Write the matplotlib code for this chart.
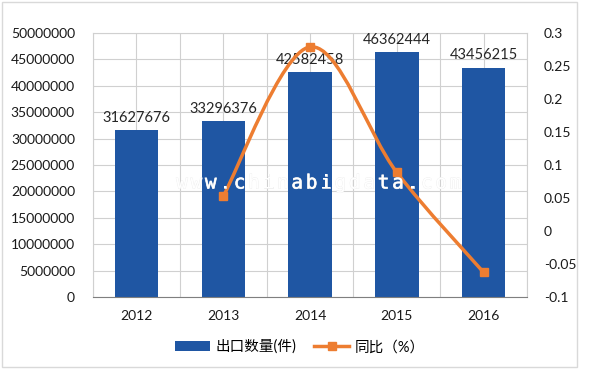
import matplotlib.pyplot as plt
from matplotlib.path import Path
from matplotlib.patches import PathPatch, Rectangle, Patch
from matplotlib.lines import Line2D
import matplotlib.patheffects as pe

annees = ["2012", "2013", "2014", "2015", "2016"]
quantites = [31627676, 33296376, 42582458, 46362444, 43456215]
annees_ratio = [1, 2, 3, 4]
ratio = [0.0528, 0.2789, 0.0888, -0.0627]

ticks_gauche = [0, 5000000, 10000000, 15000000, 20000000, 25000000,
                30000000, 35000000, 40000000, 45000000, 50000000]
ticks_droite = [-0.1, -0.05, 0, 0.05, 0.1, 0.15, 0.2, 0.25, 0.3]
labels_droite = ["-0.1", "-0.05", "0", "0.05", "0.1", "0.15", "0.2", "0.25", "0.3"]

BLEU = "#1f56a3"
ORANGE = "#ed7d31"
GRILLE = "#d0d0d0"


def courbe_lisse(xs, ys):
    """Courbe type Catmull-Rom, comme le lissage d'Excel."""
    pts = list(zip(xs, ys))
    verts = [pts[0]]
    codes = [Path.MOVETO]
    for i in range(len(pts) - 1):
        p0 = pts[i - 1] if i > 0 else pts[i]
        p1 = pts[i]
        p2 = pts[i + 1]
        p3 = pts[i + 2] if i + 2 < len(pts) else pts[i + 1]
        c1 = (p1[0] + (p2[0] - p0[0]) / 6, p1[1] + (p2[1] - p0[1]) / 6)
        c2 = (p2[0] - (p3[0] - p1[0]) / 6, p2[1] - (p3[1] - p1[1]) / 6)
        verts += [c1, c2, p2]
        codes += [Path.CURVE4] * 3
    return Path(verts, codes)


plt.rcParams['font.family'] = ['Lato', 'Noto Sans CJK SC', 'DejaVu Sans']

fig = plt.figure(figsize=(6, 3.69), dpi=100)
ax = fig.add_axes([93 / 600, 1 - 297 / 369, 434 / 600, 264 / 369])

x = list(range(len(annees)))
ax.bar(x, quantites, width=0.5, color=BLEU, zorder=2)
for xi, q in zip(x, quantites):
    ax.text(xi, q + 1000000, str(q), ha="center", va="bottom",
            fontsize=10.5, color="#262626", zorder=5)

ax.set_xlim(-0.5, len(annees) - 0.5)
ax.set_ylim(0, 50000000)
ax.set_yticks(ticks_gauche)
ax.set_yticklabels([str(t) for t in ticks_gauche])
ax.set_xticks(x)
ax.set_xticklabels(annees)
ax.set_xticks([i - 0.5 for i in range(len(annees) + 1)], minor=True)
ax.grid(True, which="both", color=GRILLE, linewidth=0.8, zorder=0)
ax.set_axisbelow(True)
ax.tick_params(axis="both", which="both", length=0, labelsize=10, colors="#1a1a1a")
ax.tick_params(axis="y", pad=13)
ax.tick_params(axis="x", pad=9)
for cote in ["top", "right", "left"]:
    ax.spines[cote].set_color(GRILLE)
ax.spines["bottom"].set_color("#7f7f7f")

ax2 = ax.twinx()
ax2.set_ylim(-0.1, 0.3)
ax2.set_yticks(ticks_droite)
ax2.set_yticklabels(labels_droite)
ax2.tick_params(axis="y", length=0, labelsize=10, colors="#1a1a1a", pad=12)
for cote in ax2.spines:
    ax2.spines[cote].set_visible(False)

# filigrane
texte = "www.chinabigdata.com"
for i, c in enumerate(texte):
    fig.text((182 + i * 14.4) / 600, 1 - 183 / 369, c, ha="center", va="center",
             fontsize=14, family="DejaVu Sans Mono", color="white", zorder=3,
             path_effects=[pe.withStroke(linewidth=0.5, foreground="#ececec")])

ax2.add_patch(PathPatch(courbe_lisse(annees_ratio, ratio), facecolor="none",
                        edgecolor=ORANGE, linewidth=2.5, zorder=4))
ax2.plot(annees_ratio, ratio, linestyle="none", marker="s", markersize=6,
         color=ORANGE, zorder=5)

poignees = [Patch(facecolor=BLEU), Line2D([], [], color=ORANGE, linewidth=2.5,
                                          marker="s", markersize=6)]
fig.legend(poignees, ["出口数量(件)", "同比（%）"], loc="center", ncol=2,
           bbox_to_anchor=(0.5, 1 - 347 / 369), frameon=False, fontsize=10.5,
           handlelength=2.4, handleheight=0.6, columnspacing=1.2, handletextpad=0.4)

fig.patches.append(Rectangle((2 / 600, 2 / 369), 575 / 600, 365 / 369,
                             transform=fig.transFigure, fill=False,
                             edgecolor="#d9d9d9", linewidth=1))

fig.savefig("out.png", dpi=100)
